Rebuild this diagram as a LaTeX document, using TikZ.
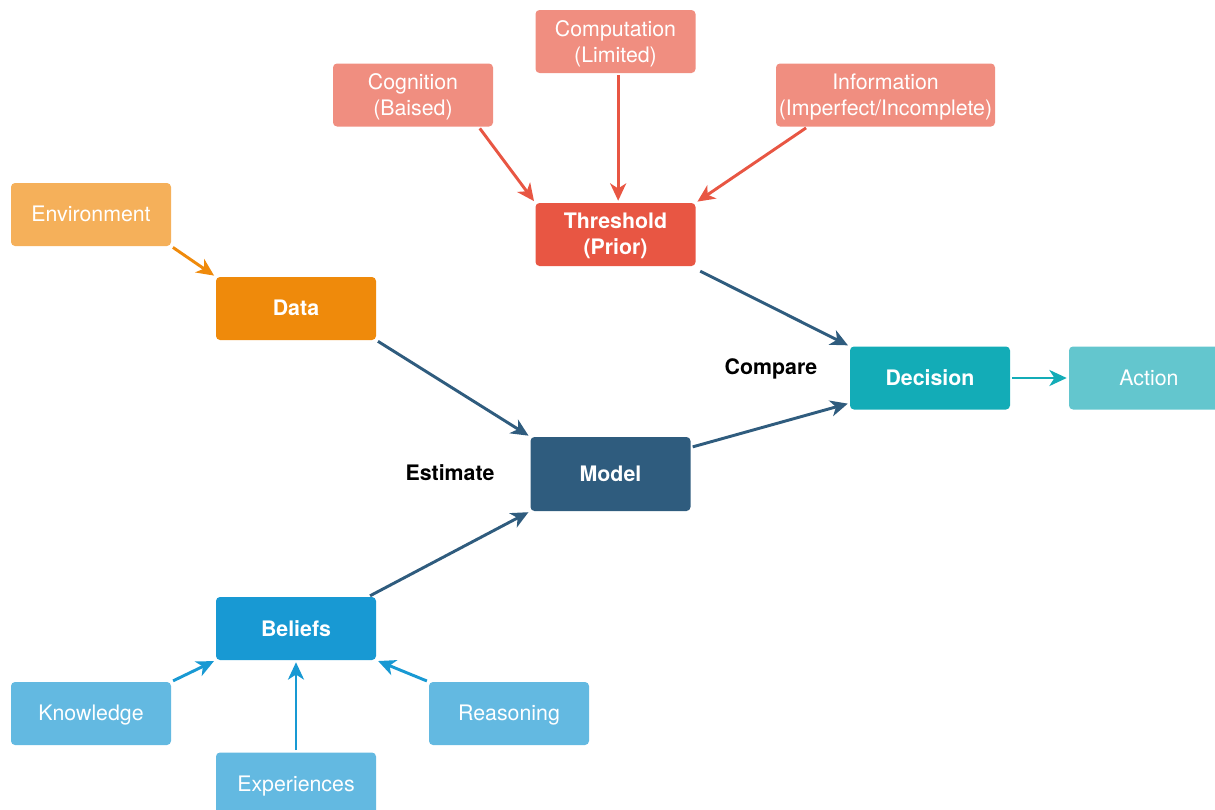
\documentclass[tikz,border=0pt]{standalone}
\usepackage{fontspec}
\setmainfont{TeX Gyre Heros}
\usetikzlibrary{arrows.meta}

\definecolor{cEnv}{HTML}{F5B05A}
\definecolor{cData}{HTML}{EF8A0B}
\definecolor{cSalmon}{HTML}{F08E80}
\definecolor{cThr}{HTML}{E85643}
\definecolor{cDec}{HTML}{13ACB7}
\definecolor{cAct}{HTML}{63C6CE}
\definecolor{cModel}{HTML}{2F5C7E}
\definecolor{cBel}{HTML}{1899D3}
\definecolor{cLight}{HTML}{63B9E1}

\tikzset{
  box/.style={rectangle, rounded corners=3pt, minimum width=120pt, minimum height=47.25pt,
    inner sep=0pt, text=white, align=center, font=\fontsize{16}{19.5}\selectfont,
    text depth=0.5pt},
  mainbox/.style={box, font=\fontsize{16}{19.5}\selectfont\bfseries},
  link/.style={line width=2.2pt, -{Stealth[length=13pt, width=12pt, inset=3.8pt]},
    shorten <=1.5pt, shorten >=1.5pt},
  tag/.style={font=\fontsize{16}{19}\selectfont\bfseries, text=black}
}

\begin{document}
\begin{tikzpicture}[x=0.75pt, y=-0.75pt]
\useasboundingbox (0,0) rectangle (1215,810);
\clip (0,0) rectangle (1215,810);

% upstream nodes
\node[box, fill=cEnv] (env) at (91,214.5) {Environment};
\node[mainbox, fill=cData] (data) at (296,308.5) {Data};
\node[box, fill=cSalmon] (cog) at (413,95) {Cognition\\(Baised)};
\node[box, fill=cSalmon] (comp) at (615.5,41.5) {Computation\\(Limited)};
\node[box, fill=cSalmon, minimum width=164.25pt] (info) at (885.5,95) {Information\\(Imperfect/Incomplete)};
\node[mainbox, fill=cThr] (thr) at (615.5,234.5) {Threshold\\(Prior)};

% core chain
\node[mainbox, fill=cModel, minimum height=55.5pt] (model) at (610.5,474) {Model};
\node[mainbox, fill=cDec] (dec) at (930,378) {Decision};
\node[box, fill=cAct] (act) at (1149,378) {Action};

% belief sources
\node[mainbox, fill=cBel] (bel) at (296,628.5) {Beliefs};
\node[box, fill=cLight] (know) at (91,713.5) {Knowledge};
\node[box, fill=cLight] (exp) at (296,784) {Experiences};
\node[box, fill=cLight] (reas) at (509,713.5) {Reasoning};

% step labels
\node[tag] (cmp) at (771,368.5) {Compare};
\node[tag] (est) at (450,472.5) {Estimate};

% connectors
\draw[link, cData] (env.south east) -- (data.north west);
\draw[link, cThr] ([xshift=-11pt]cog.south east) -- (thr.north west);
\draw[link, cThr] ([xshift=2pt]comp.south) -- ([xshift=2pt]thr.north);
\draw[link, cThr] ([xshift=24pt]info.south west) -- (thr.north east);
\draw[link, cModel] ([shift={(2pt,-3pt)}]thr.south east) -- (dec.north west);
\draw[link, cModel] (data.south east) -- (model.north west);
\draw[link, cModel] ([yshift=-8pt]model.north east) -- ([yshift=5pt]dec.south west);
\draw[link, cDec] (dec.east) -- (act.west);
\draw[link, cModel] ([xshift=-6pt]bel.north east) -- (model.south west);
\draw[link, cBel] (know.north east) -- (bel.south west);
\draw[link, cBel] (exp.north) -- (bel.south);
\draw[link, cBel] (reas.north west) -- (bel.south east);
\end{tikzpicture}
\end{document}
